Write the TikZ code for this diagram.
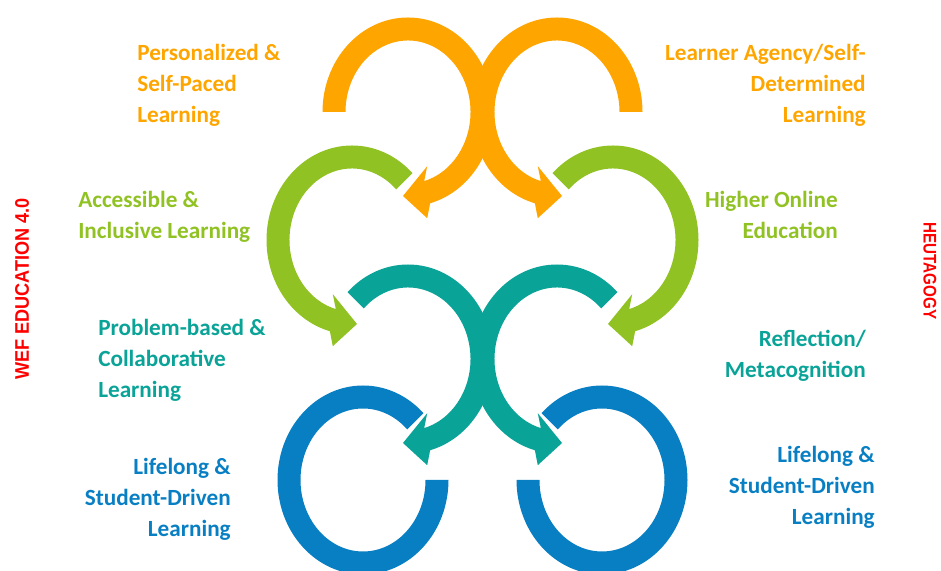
\documentclass[tikz,border=0pt]{standalone}
\usepackage{fontspec}
\usepackage{graphicx}
\setmainfont{Carlito}
\newfontfamily\arialfont{Liberation Sans}
\usetikzlibrary{calc}

\definecolor{orng}{RGB}{255,165,0}
\definecolor{lgreen}{RGB}{145,194,35}
\definecolor{teal}{RGB}{10,163,152}
\definecolor{lblue}{RGB}{9,127,195}

\tikzset{
  lbl/.style={font=\bfseries\fontsize{16.5}{22}\selectfont, inner sep=0pt},
  side/.style={red, font=\arialfont\bfseries, inner sep=0pt},
  gap/.style={draw=white, line width=3pt}
}

% ring with an arrowhead at the bottom: [opts] cx cy start end dir
\newcommand{\arrowring}[6][]{%
  \path[#1] ($(#2,#3)+(#4:85.5 and 94.5)$)
    arc[start angle=#4, end angle=#5, x radius=85.5, y radius=94.5]
    -- ({#2-(#6)*19.2},{#3-106.2}) -- ({#2+(#6)*5},{#3-84}) -- ({#2-(#6)*19.2},{#3-54.2})
    -- ($(#2,#3)+(#5:62.5 and 71.5)$)
    arc[start angle=#5, end angle=#4, x radius=62.5, y radius=71.5] -- cycle;}
% open ring, no arrowhead: [opts] cx cy start end
\newcommand{\openring}[5][]{%
  \path[#1] ($(#2,#3)+(#4:85.5 and 94.5)$)
    arc[start angle=#4, end angle=#5, x radius=85.5, y radius=94.5]
    -- ($(#2,#3)+(#5:62.5 and 71.5)$)
    arc[start angle=#5, end angle=#4, x radius=62.5, y radius=71.5] -- cycle;}

\begin{document}
\begin{tikzpicture}[x=0.025cm, y=0.025cm]
\useasboundingbox (0,0) rectangle (941,571);

% blue rings
\foreach \cx/\a/\b in {363/45/360, 602/135/-180}
  \openring[gap]{\cx}{91}{\a}{\b};
\foreach \cx/\a/\b in {363/45/360, 602/135/-180}
  \openring[fill=lblue]{\cx}{91}{\a}{\b};

% teal rings
\foreach \cx/\a/\b/\d in {408/135/-75/-1, 557/45/255/1}
  \arrowring[gap]{\cx}{212}{\a}{\b}{\d};
\foreach \cx/\a/\b/\d in {408/135/-75/-1, 557/45/255/1}
  \arrowring[fill=teal]{\cx}{212}{\a}{\b}{\d};

% green rings
\foreach \cx/\a/\b/\d in {352/45/255/1, 613/135/-75/-1}
  \arrowring[gap]{\cx}{331}{\a}{\b}{\d};
\foreach \cx/\a/\b/\d in {352/45/255/1, 613/135/-75/-1}
  \arrowring[fill=lgreen]{\cx}{331}{\a}{\b}{\d};

% orange rings
\foreach \cx/\a/\b/\d in {408/180/-75/-1, 557/0/255/1}
  \arrowring[gap]{\cx}{459}{\a}{\b}{\d};
\foreach \cx/\a/\b/\d in {408/180/-75/-1, 557/0/255/1}
  \arrowring[fill=orng]{\cx}{459}{\a}{\b}{\d};

% labels
\node[lbl, orng, align=left, anchor=north west] (pers) at (137,527)
  {Personalized \&\\Self-Paced\\Learning};
\node[lbl, orng, align=right, anchor=north east] (agency) at (866,527)
  {Learner Agency/Self-\\Determined\\Learning};
\node[lbl, lgreen, align=left, anchor=north west] (access) at (78,380)
  {Accessible \&\\Inclusive Learning};
\node[lbl, lgreen, align=right, anchor=north east] (online) at (838,380)
  {Higher Online\\Education};
\node[lbl, teal, align=left, anchor=north west] (problem) at (98,252)
  {Problem-based \&\\Collaborative\\Learning};
\node[lbl, teal, align=right, anchor=north east] (reflect) at (866,241)
  {Reflection/\\Metacognition};
\node[lbl, lblue, align=right, anchor=north east] (lifeL) at (231,113)
  {Lifelong \&\\Student-Driven\\Learning};
\node[lbl, lblue, align=right, anchor=north east] (lifeR) at (875,125)
  {Lifelong \&\\Student-Driven\\Learning};

\node[side, font=\arialfont\bfseries\fontsize{14}{16}\selectfont, rotate=90] (wef) at (22,282)
  {\scalebox{0.92}[1]{WEF EDUCATION 4.0}};
\node[side, font=\arialfont\bfseries\fontsize{13}{15}\selectfont, rotate=-90] (heut) at (930,300)
  {\scalebox{0.83}[1]{HEUTAGOGY}};
\end{tikzpicture}
\end{document}
